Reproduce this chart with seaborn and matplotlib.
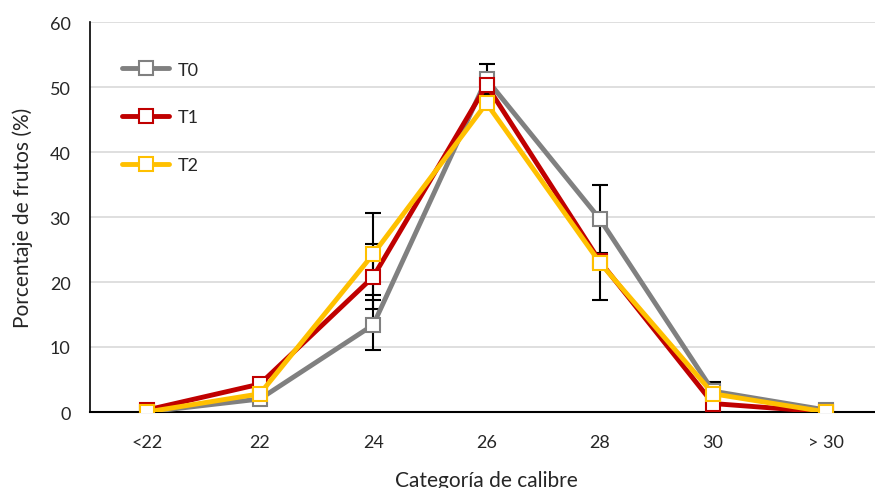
import numpy as np
import pandas as pd
import matplotlib
matplotlib.use('Agg')
import matplotlib.pyplot as plt
import seaborn as sns

categorias = ['<22', '22', '24', '26', '28', '30', '> 30']
t0 = [0.0, 2.0, 13.4, 51.2, 29.7, 3.2, 0.3]
t1 = [0.3, 4.3, 20.8, 50.3, 23.2, 1.3, 0.0]
t2 = [0.0, 2.8, 24.3, 47.5, 23.0, 2.8, 0.0]
err_t0 = [0.0, 0.5, 3.9, 2.3, 5.2, 1.4, 0.0]
err_t1 = [0.0, 0.0, 5.0, 0.0, 5.9, 0.0, 0.0]
err_t2 = [0.0, 0.0, 6.3, 0.0, 0.0, 0.0, 0.0]
tratamientos = ['T0', 'T1', 'T2']
colores = ['#808080', '#C00000', '#FFC000']

pos = np.arange(len(categorias))
df = pd.DataFrame({
    'pos': np.tile(pos, 3),
    'valor': t0 + t1 + t2,
    'err': err_t0 + err_t1 + err_t2,
    'trat': np.repeat(tratamientos, len(categorias)),
})

sns.set_style('white')
plt.rcParams['font.family'] = ['Lato', 'DejaVu Sans']

fig = plt.figure(figsize=(8.75, 4.89), dpi=100)
ax = fig.add_axes([90/875, 1 - 413/489, (883-90)/875, (413-23)/489])

# barras de error
for t in tratamientos:
    d = df[df.trat == t]
    d = d[d.err > 0]
    ax.errorbar(d.pos, d.valor, yerr=d.err, fmt='none', ecolor='black',
                elinewidth=1.5, capsize=6, capthick=1.5, zorder=3)

# una linea por tratamiento
for t, c in zip(tratamientos, colores):
    d = df[df.trat == t]
    sns.lineplot(data=d, x='pos', y='valor', color=c, label=t,
                 marker='s', markersize=10, markerfacecolor='white',
                 markeredgecolor=c, markeredgewidth=1.5, linewidth=3.5,
                 ax=ax, zorder=4)

ax.set_xlim(-0.5, 6.5)
ax.set_ylim(0, 60)
ax.set_xticks(pos)
ax.set_xticklabels(categorias)
ax.set_yticks(range(0, 61, 10))
ax.tick_params(axis='both', labelsize=13, length=0)
ax.tick_params(axis='x', pad=16)
ax.tick_params(axis='y', pad=14)
ax.yaxis.grid(True, color='#d9d9d9', linewidth=1.2)
ax.set_axisbelow(True)
for s in ['top', 'right']:
    ax.spines[s].set_visible(False)
ax.spines['left'].set_color('black')
ax.spines['bottom'].set_color('black')
ax.spines['left'].set_linewidth(1.2)
ax.spines['bottom'].set_linewidth(1.5)

ax.set_xlabel('Categoría de calibre', fontsize=15, labelpad=14)
ax.set_ylabel('Porcentaje de frutos (%)', fontsize=15, labelpad=12)

ax.legend(loc='upper left', frameon=False, fontsize=13,
          handlelength=2.6, handletextpad=0.5, labelspacing=1.75,
          bbox_to_anchor=(0.02, 0.94))

fig.savefig('out.png', dpi=100)
